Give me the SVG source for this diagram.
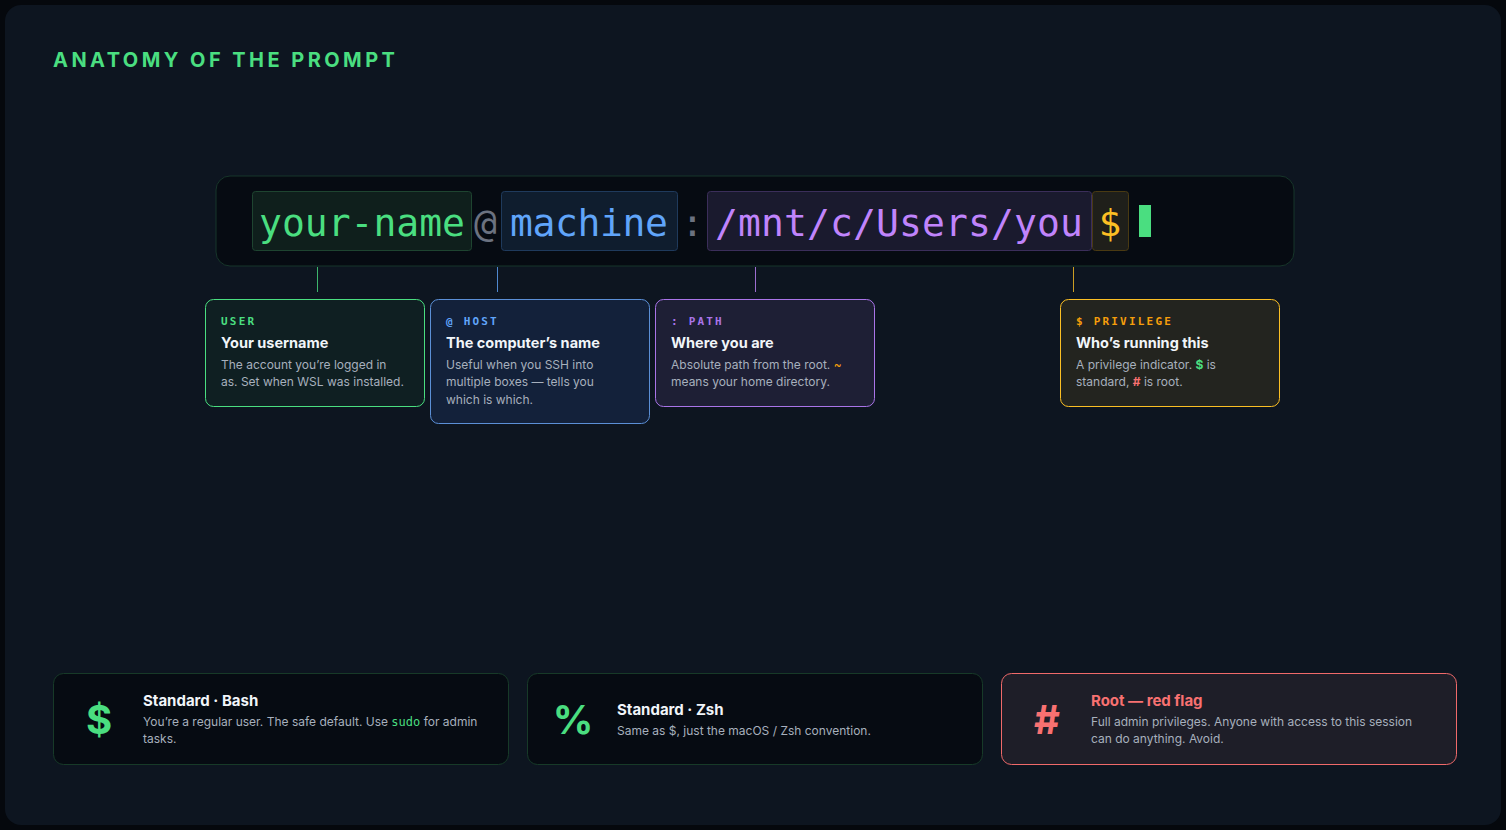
<svg xmlns="http://www.w3.org/2000/svg" width="1506" height="830" viewBox="0 0 1506 830">
<style>
.mono{font-family:"DejaVu Sans Mono","Liberation Mono",monospace}
.sans{font-family:Inter,"Liberation Sans",sans-serif}
.seg{font-size:38px}
.lbl{font-size:11px;letter-spacing:2.2px;font-weight:bold}
.ttl{font-size:14.5px;font-weight:bold;fill:#f1f5f9}
.dsc{font-size:12px;fill:#a7b0bd}
.btl{font-size:15px;font-weight:bold;fill:#f1f5f9}
.bsym{font-size:40px;font-weight:bold}
.conn{stroke-width:1;opacity:0.8}
</style>
<rect x="0" y="0" width="1506" height="830" fill="#05080d"/>
<rect x="5" y="5" width="1496" height="820" rx="16" fill="#0d1520"/>
<text x="53" y="67" class="sans" font-size="20" font-weight="bold" letter-spacing="3.45" fill="#4ade80">ANATOMY OF THE PROMPT</text>

<g id="prompt">
<rect x="216" y="176" width="1078" height="90" rx="14" fill="#060b12" stroke="#17362a"/>
<rect x="252.5" y="191.5" width="219" height="59" rx="3" fill="#0f1f1c" stroke="#1e4430"/>
<text x="259" y="236" class="mono seg" fill="#4ade80" textLength="206" lengthAdjust="spacing">your-name</text>
<text x="474" y="236" class="mono seg" fill="#6b7280">@</text>
<rect x="501.5" y="191.5" width="176" height="59" rx="3" fill="#0f1d2e" stroke="#1f3a5c"/>
<text x="510" y="236" class="mono seg" fill="#60a5fa" textLength="158" lengthAdjust="spacing">machine</text>
<text x="681" y="236" class="mono seg" fill="#6b7280">:</text>
<rect x="707.5" y="191.5" width="384" height="59" rx="3" fill="#1a1a2e" stroke="#3b2e5a"/>
<text x="715" y="236" class="mono seg" fill="#c084fc" textLength="368" lengthAdjust="spacing">/mnt/c/Users/you</text>
<rect x="1092.5" y="191.5" width="36" height="59" rx="3" fill="#1f1f1a" stroke="#4a3a12"/>
<text x="1110" y="236" class="mono seg" fill="#fbbf24" text-anchor="middle">$</text>
<rect x="1139" y="205" width="12" height="32" fill="#4ade80"/>
</g>

<g id="connectors">
<line x1="317.5" y1="267" x2="317.5" y2="292" stroke="#4ade80" class="conn"/>
<line x1="497.5" y1="267" x2="497.5" y2="292" stroke="#60a5fa" class="conn"/>
<line x1="755.5" y1="267" x2="755.5" y2="292" stroke="#c084fc" class="conn"/>
<line x1="1073.5" y1="267" x2="1073.5" y2="292" stroke="#fbbf24" class="conn"/>
</g>

<g id="card-user">
<rect x="205.5" y="299.5" width="219" height="107" rx="8" fill="#0f1f22" stroke="#4ade80"/>
<text x="221" y="325" class="mono lbl" fill="#4ade80">USER</text>
<text x="221" y="348" class="sans ttl">Your username</text>
<text x="221" y="369" class="sans dsc">The account you’re logged in</text>
<text x="221" y="386" class="sans dsc">as. Set when WSL was installed.</text>
</g>

<g id="card-host">
<rect x="430.5" y="299.5" width="219" height="124" rx="8" fill="#13213a" stroke="#5b8fd6"/>
<text x="446" y="325" class="mono lbl" fill="#60a5fa">@ HOST</text>
<text x="446" y="348" class="sans ttl">The computer’s name</text>
<text x="446" y="369" class="sans dsc">Useful when you SSH into</text>
<text x="446" y="386" class="sans dsc">multiple boxes — tells you</text>
<text x="446" y="404" class="sans dsc">which is which.</text>
</g>

<g id="card-path">
<rect x="655.5" y="299.5" width="219" height="107" rx="8" fill="#1e1f35" stroke="#a974e8"/>
<text x="671" y="325" class="mono lbl" fill="#a974e8">: PATH</text>
<text x="671" y="348" class="sans ttl">Where you are</text>
<text x="671" y="369" class="sans dsc">Absolute path from the root. <tspan fill="#f59e0b">~</tspan></text>
<text x="671" y="386" class="sans dsc">means your home directory.</text>
</g>

<g id="card-privilege">
<rect x="1060.5" y="299.5" width="219" height="107" rx="8" fill="#23241f" stroke="#fbbf24"/>
<text x="1076" y="325" class="mono lbl" fill="#f59e0b">$ PRIVILEGE</text>
<text x="1076" y="348" class="sans ttl">Who’s running this</text>
<text x="1076" y="369" class="sans dsc">A privilege indicator. <tspan fill="#4ade80" font-weight="bold">$</tspan> is</text>
<text x="1076" y="386" class="sans dsc">standard, <tspan fill="#f87171" font-weight="bold">#</tspan> is root.</text>
</g>

<g id="card-bash">
<rect x="53.5" y="673.5" width="455" height="91" rx="10" fill="#060b12" stroke="#173a28"/>
<text x="99" y="734" class="sans bsym" fill="#4ade80" text-anchor="middle">$</text>
<text x="143" y="706" class="sans btl">Standard · Bash</text>
<text x="143" y="726" class="sans dsc">You’re a regular user. The safe default. Use <tspan class="mono" fill="#4ade80">sudo</tspan> for admin</text>
<text x="143" y="743" class="sans dsc">tasks.</text>
</g>

<g id="card-zsh">
<rect x="527.5" y="673.5" width="455" height="91" rx="10" fill="#060b12" stroke="#173a28"/>
<text x="573" y="734" class="sans bsym" fill="#4ade80" text-anchor="middle">%</text>
<text x="617" y="715" class="sans btl">Standard · Zsh</text>
<text x="617" y="735" class="sans dsc">Same as $, just the macOS / Zsh convention.</text>
</g>

<g id="card-root">
<rect x="1001.5" y="673.5" width="455" height="91" rx="10" fill="#1e1e28" stroke="#f06a6a"/>
<text x="1047" y="734" class="sans bsym" fill="#f87171" text-anchor="middle">#</text>
<text x="1091" y="706" class="sans btl" style="fill:#f87171">Root — red flag</text>
<text x="1091" y="726" class="sans dsc">Full admin privileges. Anyone with access to this session</text>
<text x="1091" y="743" class="sans dsc">can do anything. Avoid.</text>
</g>
</svg>
